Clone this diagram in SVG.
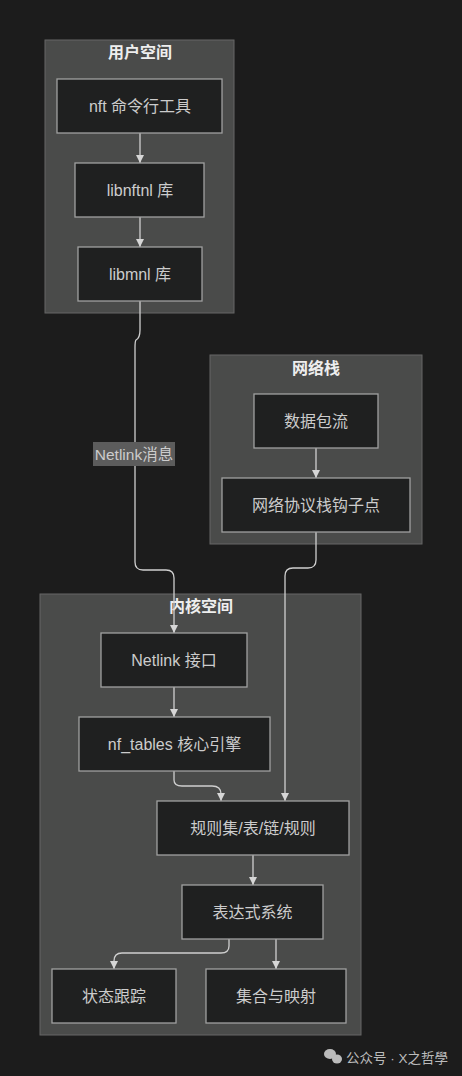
<svg xmlns="http://www.w3.org/2000/svg" width="462" height="1076" viewBox="0 0 462 1076">
<style>
.cl{fill:#4a4b4a;stroke:#666;stroke-width:1}
.ct{fill:#eee;font:bold 16px "Liberation Sans","Noto Sans CJK SC",sans-serif;text-anchor:middle}
.nd{fill:#1f2020;stroke:#a0a0a0;stroke-width:1.3}
.nt{fill:#ccc;font:16px "Liberation Sans","Noto Sans CJK SC",sans-serif;text-anchor:middle;dominant-baseline:central}
.ed{fill:none;stroke:#cfcfcf;stroke-width:1.3}
</style>
<defs>
<marker id="ah" viewBox="0 0 10 10" refX="10" refY="5" markerWidth="8" markerHeight="8" markerUnits="userSpaceOnUse" orient="auto">
<path d="M0,0L10,5L0,10z" fill="#d6d6d6"/>
</marker>
</defs>
<rect width="462" height="1076" fill="#1c1c1c"/>
<g id="cluster-user">
<rect class="cl" x="45" y="40" width="189" height="273"/>
<text class="ct" x="140" y="58">用户空间</text>
</g>
<g id="cluster-net">
<rect class="cl" x="210" y="355" width="212" height="189"/>
<text class="ct" x="316" y="374">网络栈</text>
</g>
<g id="cluster-kernel">
<rect class="cl" x="40" y="594" width="321" height="441"/>
<text class="ct" x="201" y="612">内核空间</text>
</g>
<g id="connectors">
<path class="ed" d="M140,133V163" marker-end="url(#ah)"/>
<path class="ed" d="M140,217V247" marker-end="url(#ah)"/>
<path class="ed" d="M140,301V330Q140,338 136,340Q135,341 135,348V562Q135,570 143,570H166Q174,570 174,578V633" marker-end="url(#ah)"/>
<path class="ed" d="M316,448V478" marker-end="url(#ah)"/>
<path class="ed" d="M316,532V560Q316,568 308,568H293Q285,568 285,576V801" marker-end="url(#ah)"/>
<path class="ed" d="M174,687V717" marker-end="url(#ah)"/>
<path class="ed" d="M174,771V780Q174,786 182,786H212Q221,786 221,794V801" marker-end="url(#ah)"/>
<path class="ed" d="M253,855V885" marker-end="url(#ah)"/>
<path class="ed" d="M229,939V946Q229,953 221,953H122Q114,953 114,961V969" marker-end="url(#ah)"/>
<path class="ed" d="M276,939V969" marker-end="url(#ah)"/>
<rect x="93" y="442" width="82" height="24" fill="#5c5c5c"/>
<text class="nt" x="134" y="454" fill="#ddd" style="font-size:15.5px">Netlink消息</text>
</g>
<g id="n-nft"><rect class="nd" x="57" y="79" width="165" height="54"/><text class="nt" x="140" y="106">nft 命令行工具</text></g>
<g id="n-libnftnl"><rect class="nd" x="75" y="163" width="129" height="54"/><text class="nt" x="140" y="190">libnftnl 库</text></g>
<g id="n-libmnl"><rect class="nd" x="78" y="247" width="124" height="54"/><text class="nt" x="140" y="274">libmnl 库</text></g>
<g id="n-packet"><rect class="nd" x="254" y="394" width="124" height="54"/><text class="nt" x="316" y="421">数据包流</text></g>
<g id="n-hook"><rect class="nd" x="222" y="478" width="188" height="54"/><text class="nt" x="316" y="505">网络协议栈钩子点</text></g>
<g id="n-netlink"><rect class="nd" x="101" y="633" width="146" height="54"/><text class="nt" x="174" y="660">Netlink 接口</text></g>
<g id="n-nftables"><rect class="nd" x="79" y="717" width="191" height="54"/><text class="nt" x="174.5" y="744">nf_tables 核心引擎</text></g>
<g id="n-rules"><rect class="nd" x="157" y="801" width="192" height="54"/><text class="nt" x="253" y="828">规则集/表/链/规则</text></g>
<g id="n-expr"><rect class="nd" x="182" y="885" width="141" height="54"/><text class="nt" x="252.5" y="912">表达式系统</text></g>
<g id="n-state"><rect class="nd" x="52" y="969" width="124" height="54"/><text class="nt" x="114" y="996">状态跟踪</text></g>
<g id="n-sets"><rect class="nd" x="206" y="969" width="140" height="54"/><text class="nt" x="276" y="996">集合与映射</text></g>
<g id="watermark">
<ellipse cx="330" cy="1054" rx="6" ry="5" fill="#bbb"/>
<ellipse cx="337" cy="1059" rx="5" ry="4.5" fill="#bbb"/>
<text x="346" y="1063" fill="#bbb" style="font:13.5px 'Liberation Sans','Noto Sans CJK SC',sans-serif">公众号 · X之哲學</text>
</g>
</svg>
